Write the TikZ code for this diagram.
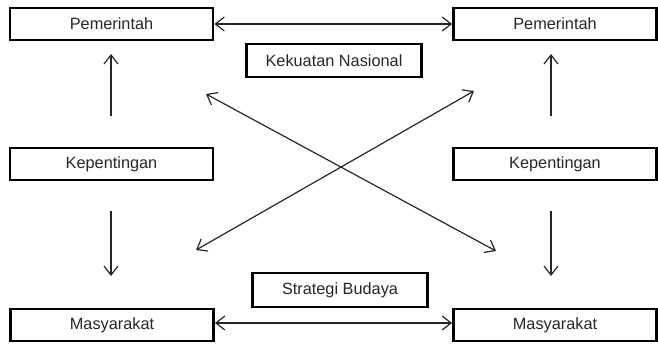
\documentclass[tikz,border=0pt]{standalone}
\usepackage{fontspec}
\setmainfont{Liberation Sans}
\usetikzlibrary{arrows.meta}
\begin{document}
\begin{tikzpicture}[x=1pt,y=-1pt,
  box/.style={draw=black,line width=2.8pt,minimum height=32pt,inner sep=0pt,font=\fontsize{16.3}{19}\selectfont,text=black!85},
  wide/.style={box,minimum width=203pt},
  mid/.style={box,minimum width=175pt,minimum height=33pt},
  conn/.style={line width=1.2pt,black!85,-{Straight Barb[length=9pt,width=14pt,line width=1.2pt]}},
  bconn/.style={conn,{Straight Barb[length=9pt,width=14pt,line width=1.2pt]}-{Straight Barb[length=9pt,width=14pt,line width=1.2pt]}}]
\useasboundingbox (0,0) rectangle (658,343);
\node[wide] (PL) at (111.5,24) {Pemerintah};
\node[wide] (PR) at (555,24) {Pemerintah};
\node[mid] (KN) at (334,60.5) {Kekuatan Nasional};
\node[wide] (KL) at (111.5,164) {Kepentingan};
\node[wide] (KR) at (555,164) {Kepentingan};
\node[mid,minimum height=34pt] (SB) at (340,290) {Strategi Budaya};
\node[wide] (ML) at (112,325) {Masyarakat};
\node[wide] (MR) at (555,325) {Masyarakat};
\coordinate (lu1) at (111,116);
\coordinate (lu2) at (111,54);
\coordinate (ld1) at (111,211);
\coordinate (ld2) at (111,276);
\coordinate (ru1) at (551,116);
\coordinate (ru2) at (551,54);
\coordinate (rd1) at (551,211);
\coordinate (rd2) at (551,276);
\coordinate (d1a) at (196,250);
\coordinate (d1b) at (474,91);
\coordinate (d2a) at (206,94);
\coordinate (d2b) at (496,251);
\draw[bconn] (PL.east) -- (PR.west);
\draw[bconn] (ML.east |- 0,323) -- (MR.west |- 0,323);
\draw[conn] (lu1) -- (lu2);
\draw[conn] (ld1) -- (ld2);
\draw[conn] (ru1) -- (ru2);
\draw[conn] (rd1) -- (rd2);
\draw[bconn] (d1a) -- (d1b);
\draw[bconn] (d2a) -- (d2b);
\end{tikzpicture}
\end{document}
